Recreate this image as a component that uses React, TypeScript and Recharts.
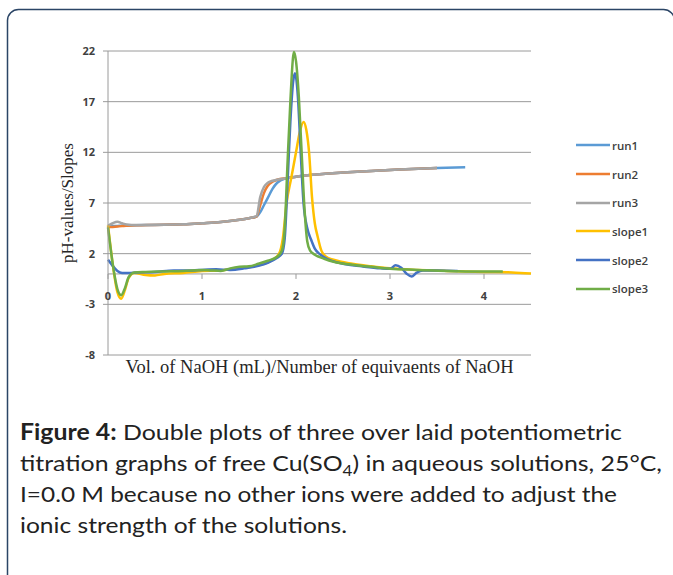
import React from 'react'
import { LineChart, Line, XAxis, YAxis, CartesianGrid, Legend, ReferenceLine, ReferenceDot } from 'recharts'

// pH curves (three runs share the same volumes)
const runX = [0, 0.05, 0.1, 0.15, 0.2, 0.3, 0.5, 0.8, 1.0, 1.2, 1.4, 1.5, 1.58, 1.62, 1.66, 1.7, 1.75, 1.8, 1.9, 2.0, 2.2, 2.5, 2.8, 3.1, 3.5, 3.8]
const run1 = [4.7, 4.72, 4.74, 4.76, 4.78, 4.8, 4.84, 4.9, 5.0, 5.12, 5.35, 5.5, 5.65, 6.1, 6.8, 7.5, 8.4, 9.0, 9.45, 9.6, 9.8, 10.0, 10.15, 10.3, 10.45, 10.52]
const run2 = [4.6, 4.64, 4.68, 4.72, 4.75, 4.8, 4.84, 4.9, 5.0, 5.12, 5.35, 5.5, 5.65, 6.8, 8.0, 8.7, 9.1, 9.3, 9.45, 9.6, 9.8, 10.0, 10.15, 10.3, 10.45, null]
const run3 = [4.75, 5.0, 5.15, 5.0, 4.88, 4.82, 4.85, 4.9, 5.0, 5.12, 5.35, 5.5, 5.7, 7.6, 8.6, 9.0, 9.2, 9.3, 9.45, 9.6, 9.8, 10.0, 10.15, 10.3, 10.45, null]

// slopes
const slope1X = [0, 0.05, 0.1, 0.14, 0.18, 0.22, 0.28, 0.4, 0.5, 0.6, 0.8, 1.0, 1.2, 1.4, 1.6, 1.75, 1.82, 1.86, 1.9, 1.95, 2.0, 2.04, 2.08, 2.11, 2.14, 2.17, 2.2, 2.23, 2.27, 2.32, 2.4, 2.6, 2.8, 3.0, 3.3, 3.6, 4.0, 4.3, 4.5]
const slope1 = [4.8, 1.0, -1.8, -2.45, -1.6, -0.4, 0.1, -0.1, -0.15, 0.0, 0.1, 0.3, 0.35, 0.6, 0.85, 1.4, 2.0, 3.5, 7.0, 9.5, 12.0, 14.0, 15.0, 14.2, 11.9, 7.6, 5.0, 3.7, 2.3, 1.7, 1.4, 1.0, 0.75, 0.55, 0.4, 0.3, 0.2, 0.15, 0.05]

const slope2X = [0, 0.05, 0.1, 0.15, 0.22, 0.3, 0.5, 0.7, 0.9, 1.0, 1.15, 1.3, 1.45, 1.6, 1.7, 1.8, 1.85, 1.88, 1.91, 1.94, 1.97, 1.99, 2.02, 2.05, 2.08, 2.12, 2.16, 2.2, 2.26, 2.35, 2.5, 2.7, 2.9, 3.0, 3.06, 3.12, 3.18, 3.23, 3.28, 3.35, 3.5, 3.72]
const slope2 = [1.4, 0.8, 0.3, 0.1, 0.1, 0.15, 0.2, 0.35, 0.35, 0.4, 0.45, 0.4, 0.55, 0.8, 1.1, 1.6, 2.0, 3.5, 9.0, 15.0, 19.0, 19.8, 17.5, 12.0, 7.0, 4.5, 3.4, 2.5, 1.9, 1.4, 1.0, 0.75, 0.55, 0.5, 0.85, 0.6, 0.0, -0.25, 0.1, 0.35, 0.35, 0.3]

const slope3X = [0, 0.05, 0.1, 0.14, 0.18, 0.22, 0.28, 0.4, 0.6, 0.8, 1.0, 1.1, 1.2, 1.3, 1.4, 1.5, 1.6, 1.7, 1.8, 1.85, 1.88, 1.91, 1.94, 1.97, 1.98, 2.0, 2.03, 2.06, 2.09, 2.12, 2.15, 2.2, 2.3, 2.4, 2.6, 2.8, 3.0, 3.3, 3.6, 4.0, 4.2]
const slope3 = [4.6, 1.0, -1.5, -2.1, -1.4, -0.3, 0.15, 0.2, 0.25, 0.3, 0.4, 0.35, 0.3, 0.55, 0.7, 0.75, 1.0, 1.3, 1.7, 2.3, 4.5, 11.0, 17.0, 21.5, 21.9, 21.0, 17.5, 12.0, 6.5, 3.2, 2.3, 1.9, 1.5, 1.2, 0.9, 0.7, 0.5, 0.4, 0.3, 0.25, 0.25]

const xTicks = [0, 1, 2, 3, 4]
const yTicks = [-8, -3, 2, 7, 12, 17, 22]

const toPoints = (xs: number[], ys: (number | null)[]) => xs.map((x, i) => ({ x, y: ys[i] }))

const series = [
  { name: 'run1', data: toPoints(runX, run1), color: '#5b9bd5' },
  { name: 'run2', data: toPoints(runX, run2), color: '#ed7d31' },
  { name: 'run3', data: toPoints(runX, run3), color: '#a5a5a5' },
  { name: 'slope1', data: toPoints(slope1X, slope1), color: '#ffc000' },
  { name: 'slope2', data: toPoints(slope2X, slope2), color: '#4472c4' },
  { name: 'slope3', data: toPoints(slope3X, slope3), color: '#70ad47' },
]

const captionFont = 'Lato, "Open Sans", sans-serif'

function LegendBox({ payload }: any) {
  return (
    <div>
      {(payload || []).map((p: any) => (
        <div key={p.value} style={{ display: 'flex', alignItems: 'center', height: 28.7 }}>
          <svg width={34} height={4} style={{ marginRight: 2 }}>
            <line x1={0} y1={2} x2={34} y2={2} stroke={p.color} strokeWidth={2.5} />
          </svg>
          <span style={{ fontFamily: '"Open Sans", sans-serif', fontSize: 11.5, fontWeight: 600, color: '#404040' }}>{p.value}</span>
        </div>
      ))}
    </div>
  )
}

export default function App() {
  return (
    <div style={{ position: 'absolute', left: 0, top: 0, width: 673, height: 575, background: '#fff', overflow: 'hidden' }}>
      <svg width={673} height={575} style={{ position: 'absolute', left: 0, top: 0 }}>
        <rect x={7.5} y={9.5} width={667} height={620} rx={11} fill="none" stroke="#2b4566" strokeWidth={1.5} />
        <g fontFamily={captionFont} fontSize={22} fill="#222">
          <text x={20} y={440} textLength={602} lengthAdjust="spacingAndGlyphs">
            <tspan fontWeight="bold">Figure 4:</tspan> Double plots of three over laid potentiometric
          </text>
          <text x={20} y={471} textLength={642} lengthAdjust="spacingAndGlyphs">
            titration graphs of free Cu(SO<tspan fontSize={15} dy={5}>4</tspan><tspan dy={-5}>) in aqueous solutions, 25°C,</tspan>
          </text>
          <text x={20} y={502} textLength={597} lengthAdjust="spacingAndGlyphs">
            I=0.0 M because no other ions were added to adjust the
          </text>
          <text x={20} y={533} textLength={327} lengthAdjust="spacingAndGlyphs">
            ionic strength of the solutions.
          </text>
        </g>
      </svg>
      <div style={{ position: 'absolute', left: 0, top: 0 }}>
        <LineChart width={673} height={400} margin={{ top: 51, right: 142, bottom: 0, left: 0 }}>
          <CartesianGrid vertical={false} stroke="#9a9a9a" strokeWidth={1} />
          <XAxis
            type="number"
            dataKey="x"
            domain={[0, 4.5]}
            ticks={xTicks}
            allowDuplicatedCategory={false}
            axisLine={false}
            tickLine={false}
            tick={false}
            height={45}
            label={{ value: 'Vol. of NaOH (mL)/Number of equivaents of NaOH', position: 'insideTop', offset: 5, style: { fontFamily: '"Liberation Serif", "Times New Roman", serif', fontSize: 18.5, fill: '#262626' } }}
          />
          <YAxis
            type="number"
            domain={[-8, 22]}
            ticks={yTicks}
            width={108}
            axisLine={{ stroke: '#9a9a9a' }}
            tickLine={{ stroke: '#9a9a9a' }}
            tickSize={5}
            tickMargin={8}
            tick={{ fontFamily: '"Open Sans", sans-serif', fontSize: 11, fontWeight: 700, fill: '#404040' }}
            label={{ value: 'pH-values/Slopes', angle: -90, position: 'insideLeft', offset: 67, style: { textAnchor: 'middle', fontFamily: '"Liberation Serif", "Times New Roman", serif', fontSize: 17, fill: '#262626' } }}
          />
          <ReferenceLine y={0} stroke="#9a9a9a" strokeWidth={1} />
          {xTicks.map(t => (
            <ReferenceDot
              key={t}
              x={t}
              y={0}
              r={0}
              shape={(p: any) => (
                <g>
                  <line x1={p.cx} y1={p.cy} x2={p.cx} y2={p.cy + 5} stroke="#9a9a9a" />
                  <text x={p.cx} y={p.cy + 26} textAnchor="middle" fontFamily='"Open Sans", sans-serif' fontSize={11} fontWeight={700} fill="#404040">{t}</text>
                </g>
              )}
            />
          ))}
          {series.map(s => (
            <Line
              key={s.name}
              name={s.name}
              data={s.data}
              dataKey="y"
              type="monotone"
              stroke={s.color}
              strokeWidth={2.5}
              dot={false}
              isAnimationActive={false}
            />
          ))}
          <Legend
            layout="vertical"
            align="center"
            verticalAlign="middle"
            wrapperStyle={{ left: 576, top: 131, width: 100 }}
            content={<LegendBox />}
          />
        </LineChart>
      </div>
    </div>
  )
}
